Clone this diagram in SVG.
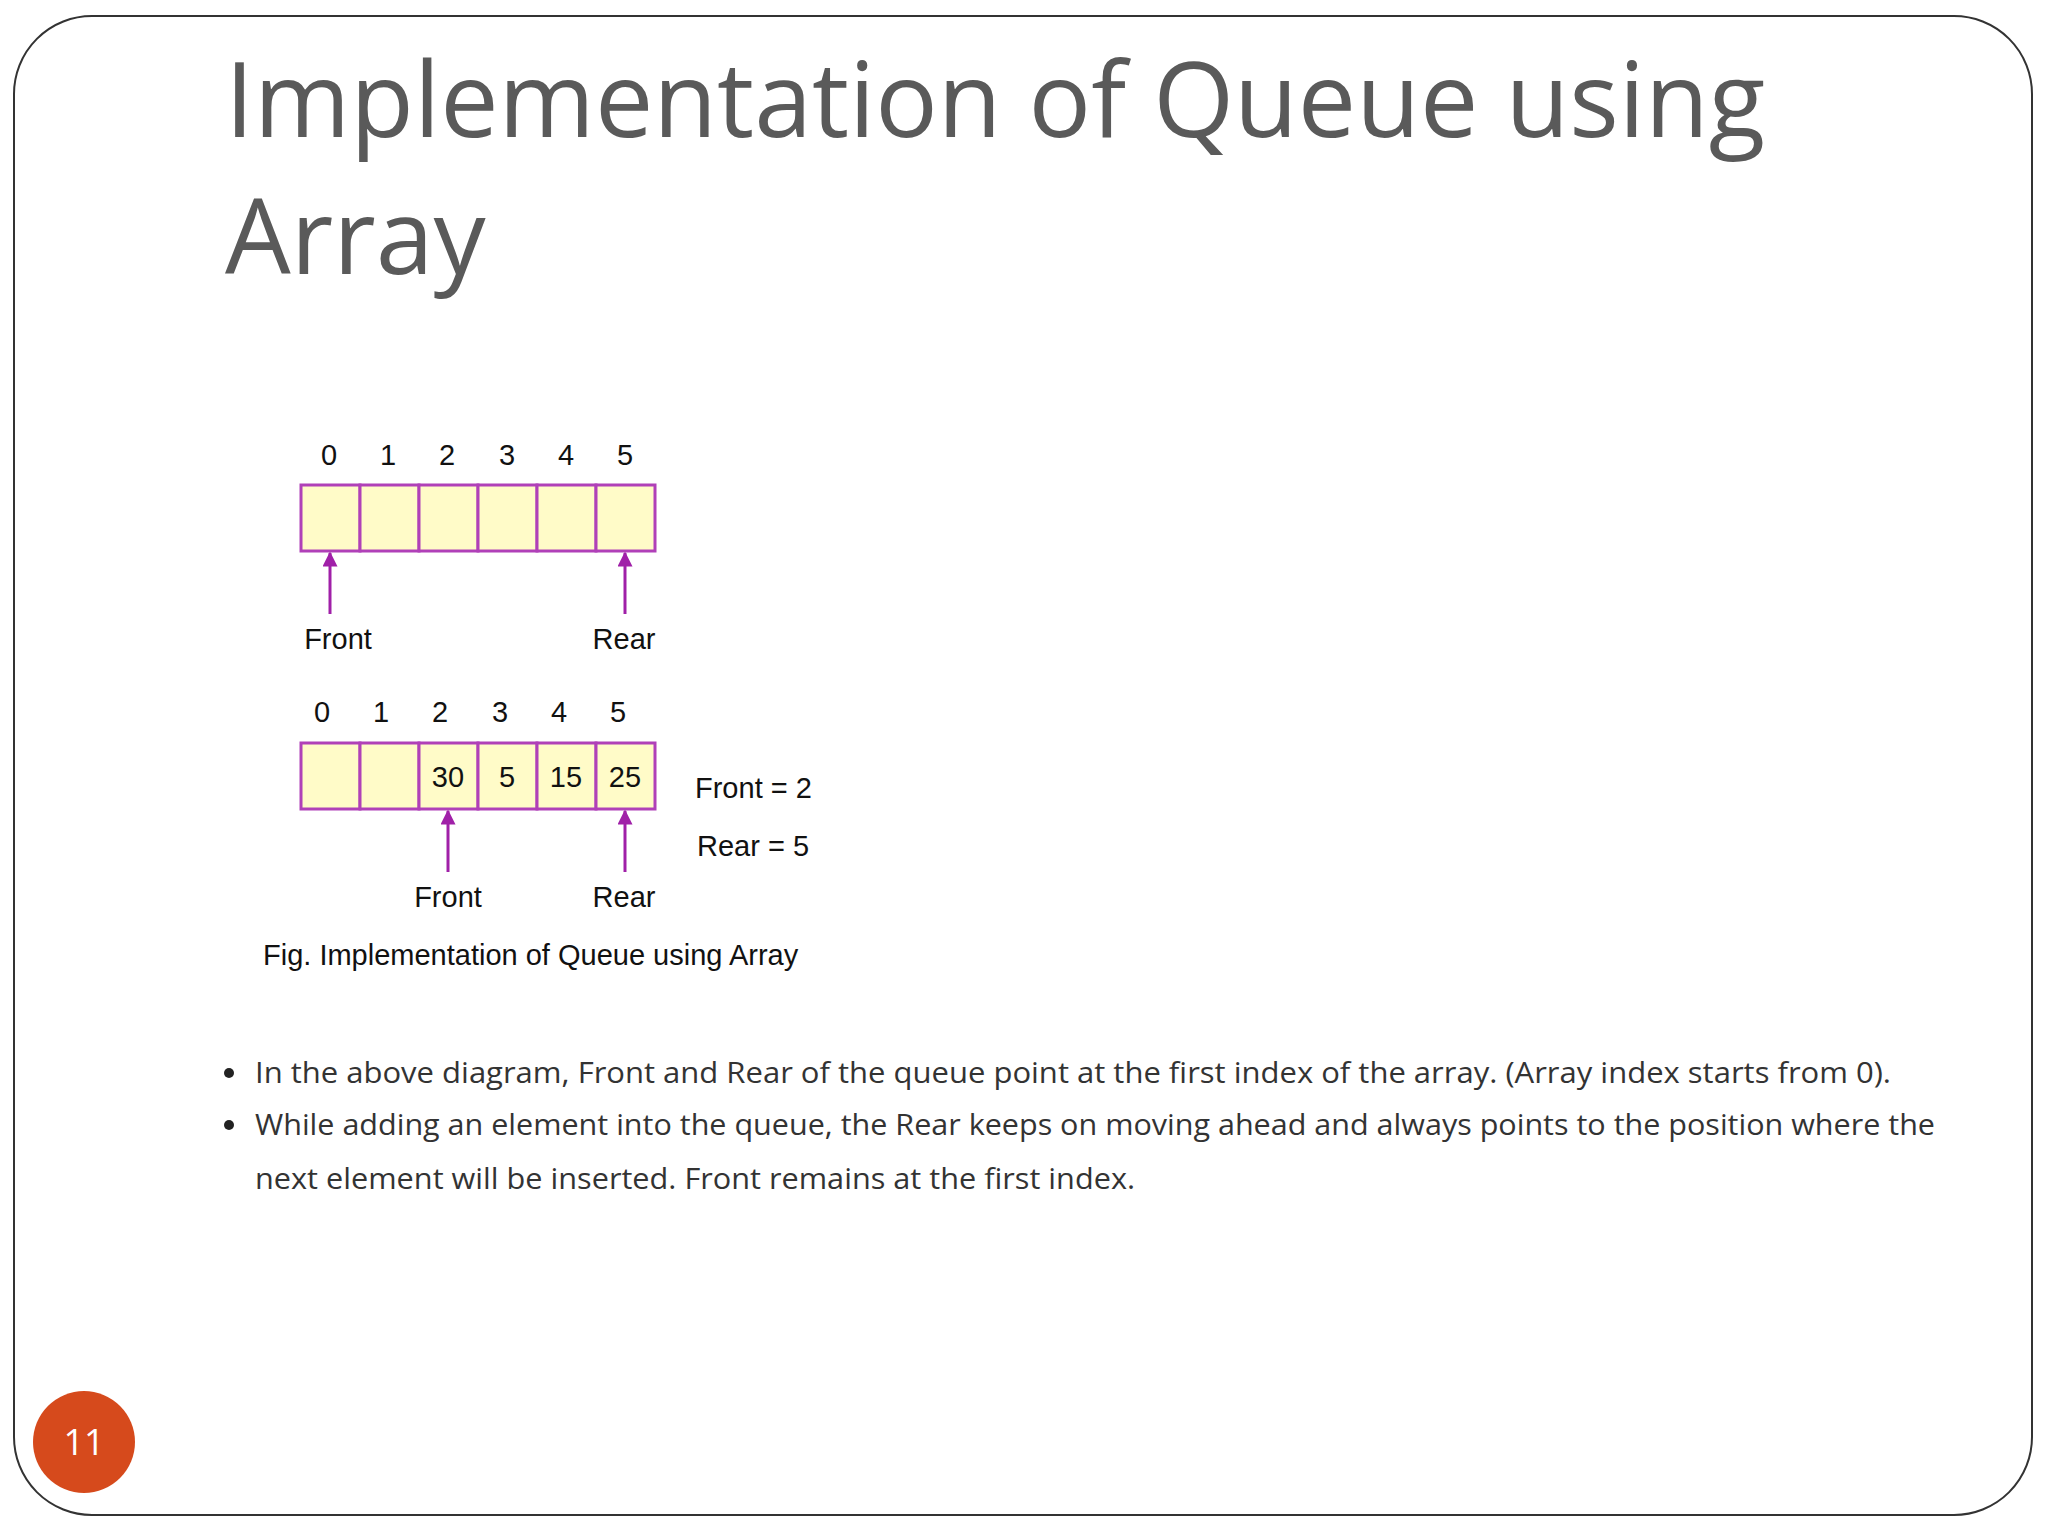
<svg xmlns="http://www.w3.org/2000/svg" width="2048" height="1536" viewBox="0 0 2048 1536">
<defs>
<style>
.cell{fill:#fffbc8;stroke:#b040b8;stroke-width:3}
.lbl{font-family:"Liberation Sans",Arial,sans-serif;font-size:29px;fill:#111;text-anchor:middle}
.conn{stroke:#a020a8;stroke-width:3;fill:none}
.body{font-family:"Open Sans",sans-serif;font-size:29px;fill:#333}
</style>
<marker id="ah" viewBox="0 0 10 10" refX="9" refY="5" markerWidth="5" markerHeight="5" orient="auto"><path d="M0,0L10,5L0,10z" fill="#a020a8"/></marker>
</defs>
<rect x="0" y="0" width="2048" height="1536" fill="#fff"/>
<rect x="14" y="16" width="2018" height="1499" rx="78" fill="none" stroke="#333" stroke-width="2"/>
<g font-family="'Open Sans',sans-serif" font-size="104" fill="#5a5a5a">
<text x="225" y="137">Implementation of Queue using</text>
<text x="225" y="274">Array</text>
</g>
<g id="array1">
<rect class="cell" x="301" y="485" width="59" height="66"/>
<rect class="cell" x="360" y="485" width="59" height="66"/>
<rect class="cell" x="419" y="485" width="59" height="66"/>
<rect class="cell" x="478" y="485" width="59" height="66"/>
<rect class="cell" x="537" y="485" width="59" height="66"/>
<rect class="cell" x="596" y="485" width="59" height="66"/>
<g class="lbl">
<text x="329" y="465" class="lbl">0</text><text x="388" y="465" class="lbl">1</text><text x="447" y="465" class="lbl">2</text><text x="507" y="465" class="lbl">3</text><text x="566" y="465" class="lbl">4</text><text x="625" y="465" class="lbl">5</text>
</g>
<text x="338" y="649" class="lbl">Front</text>
<text x="624" y="649" class="lbl">Rear</text>
</g>
<g id="array2">
<rect class="cell" x="301" y="743" width="59" height="66"/>
<rect class="cell" x="360" y="743" width="59" height="66"/>
<rect class="cell" x="419" y="743" width="59" height="66"/>
<rect class="cell" x="478" y="743" width="59" height="66"/>
<rect class="cell" x="537" y="743" width="59" height="66"/>
<rect class="cell" x="596" y="743" width="59" height="66"/>
<text x="322" y="722" class="lbl">0</text><text x="381" y="722" class="lbl">1</text><text x="440" y="722" class="lbl">2</text><text x="500" y="722" class="lbl">3</text><text x="559" y="722" class="lbl">4</text><text x="618" y="722" class="lbl">5</text>
<text x="448" y="787" class="lbl">30</text><text x="507" y="787" class="lbl">5</text><text x="566" y="787" class="lbl">15</text><text x="625" y="787" class="lbl">25</text>
<text x="448" y="907" class="lbl">Front</text>
<text x="624" y="907" class="lbl">Rear</text>
<text x="695" y="798" class="lbl" style="text-anchor:start">Front = 2</text>
<text x="697" y="856" class="lbl" style="text-anchor:start">Rear = 5</text>
</g>
<g id="connectors">
<line class="conn" x1="330" y1="614" x2="330" y2="553" marker-end="url(#ah)"/>
<line class="conn" x1="625" y1="614" x2="625" y2="553" marker-end="url(#ah)"/>
<line class="conn" x1="448" y1="872" x2="448" y2="811" marker-end="url(#ah)"/>
<line class="conn" x1="625" y1="872" x2="625" y2="811" marker-end="url(#ah)"/>
</g>
<text x="263" y="965" class="lbl" style="text-anchor:start">Fig. Implementation of Queue using Array</text>
<g class="body">
<circle cx="229" cy="1073" r="5" fill="#222"/>
<text x="255" y="1083" class="body" textLength="1636" lengthAdjust="spacingAndGlyphs">In the above diagram, Front and Rear of the queue point at the first index of the array. (Array index starts from 0).</text>
<circle cx="229" cy="1125" r="5" fill="#222"/>
<text x="255" y="1135" class="body" textLength="1680" lengthAdjust="spacingAndGlyphs">While adding an element into the queue, the Rear keeps on moving ahead and always points to the position where the</text>
<text x="255" y="1189" class="body" textLength="880" lengthAdjust="spacingAndGlyphs">next element will be inserted. Front remains at the first index.</text>
</g>
<g id="pagenum">
<circle cx="84" cy="1442" r="51" fill="#d64a1c"/>
<text x="84" y="1455" font-family="'Open Sans',sans-serif" font-size="36" fill="#fff" text-anchor="middle">11</text>
</g>
</svg>
